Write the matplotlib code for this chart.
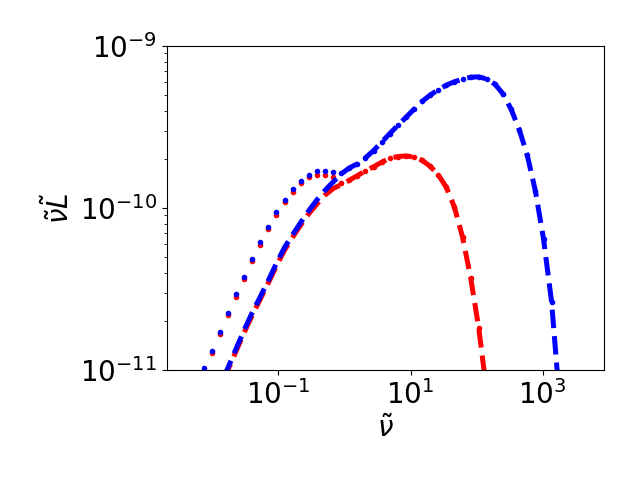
import matplotlib
matplotlib.use('Agg')
import matplotlib.pyplot as plt
import numpy as np

# frequency grid
nu = [0.007362, 0.009761, 0.01294, 0.01716, 0.02275, 0.03017, 0.04000, 0.05303,
      0.07031, 0.09322, 0.1236, 0.1639, 0.2173, 0.2881, 0.3819, 0.5064,
      0.6714, 0.8901, 1.180, 1.565, 2.075, 2.751, 3.648, 4.836,
      6.412, 8.502, 11.27, 14.94, 19.82, 26.27, 34.83, 46.18,
      61.24, 81.19, 107.6, 142.7, 189.2, 250.9, 332.7, 441.1,
      584.8, 775.4, 1028, 1363, 1807]

# log10 of nu*L
blue_comp = [-11.35, -11.22, -11.10, -10.987, -10.87, -10.755, -10.646, -10.548,
             -10.447, -10.341, -10.243, -10.164, -10.089, -10.016, -9.95, -9.891,
             -9.839, -9.79, -9.752, -9.727, -9.69, -9.645, -9.593, -9.54,
             -9.49, -9.44, -9.39, -9.342, -9.302, -9.27, -9.241, -9.22,
             -9.205, -9.192, -9.19, -9.203, -9.235, -9.295, -9.39, -9.515,
             -9.675, -9.895, -10.19, -10.58, -11.2]
blue_total = [-10.99, -10.881, -10.764, -10.646, -10.533, -10.424, -10.313, -10.212,
              -10.115, -10.027, -9.949, -9.884, -9.831, -9.794, -9.773, -9.773,
              -9.78, -9.781, -9.752, -9.727, -9.69, -9.645, -9.593, -9.54,
              -9.49, -9.44, -9.39, -9.342, -9.302, -9.27, -9.241, -9.22,
              -9.205, -9.192, -9.19, -9.203, -9.235, -9.295, -9.39, -9.515,
              -9.675, -9.895, -10.19, -10.58, -11.2]
red_comp = [-11.37, -11.24, -11.12, -11.0, -10.885, -10.77, -10.662, -10.563,
            -10.462, -10.357, -10.26, -10.18, -10.105, -10.035, -9.975, -9.92,
            -9.88, -9.855, -9.828, -9.80, -9.77, -9.745, -9.717, -9.692,
            -9.682, -9.678, -9.685, -9.705, -9.742, -9.795, -9.872, -9.995,
            -10.18, -10.43, -10.74, -11.14]
red_total = [-11.005, -10.895, -10.778, -10.66, -10.547, -10.438, -10.327, -10.226,
             -10.13, -10.042, -9.964, -9.90, -9.848, -9.807, -9.797, -9.797,
             -9.808, -9.845, -9.828, -9.80, -9.77, -9.745, -9.717, -9.692,
             -9.682, -9.678, -9.685, -9.705, -9.742, -9.795, -9.872, -9.995,
             -10.18, -10.43, -10.74, -11.14]

nu = np.array(nu)
fig = plt.figure(figsize=(6.4, 4.8), dpi=100)
ax = fig.add_axes([0.261, 0.229, 0.683, 0.675])

nr = len(red_comp)
ax.plot(nu[:nr], 10**np.array(red_total), 'r.')
ax.plot(nu[:nr], 10**np.array(red_comp), 'r--', lw=3.6)
ax.plot(nu, 10**np.array(blue_total), 'b.')
ax.plot(nu, 10**np.array(blue_comp), 'b--', lw=3.6)

ax.set_xscale('log')
ax.set_yscale('log')
ax.set_xlim(10**-2.686, 10**3.93)
ax.set_ylim(1e-11, 1e-9)
ax.set_xticks([1e-1, 1e1, 1e3])
ax.xaxis.set_minor_locator(matplotlib.ticker.NullLocator())
ax.tick_params(labelsize=20)
ax.set_xlabel(r'$\tilde{\nu}$', fontsize=20)
ax.set_ylabel(r'$\tilde{\nu}\tilde{L}$', fontsize=20)

fig.savefig('out.png')
